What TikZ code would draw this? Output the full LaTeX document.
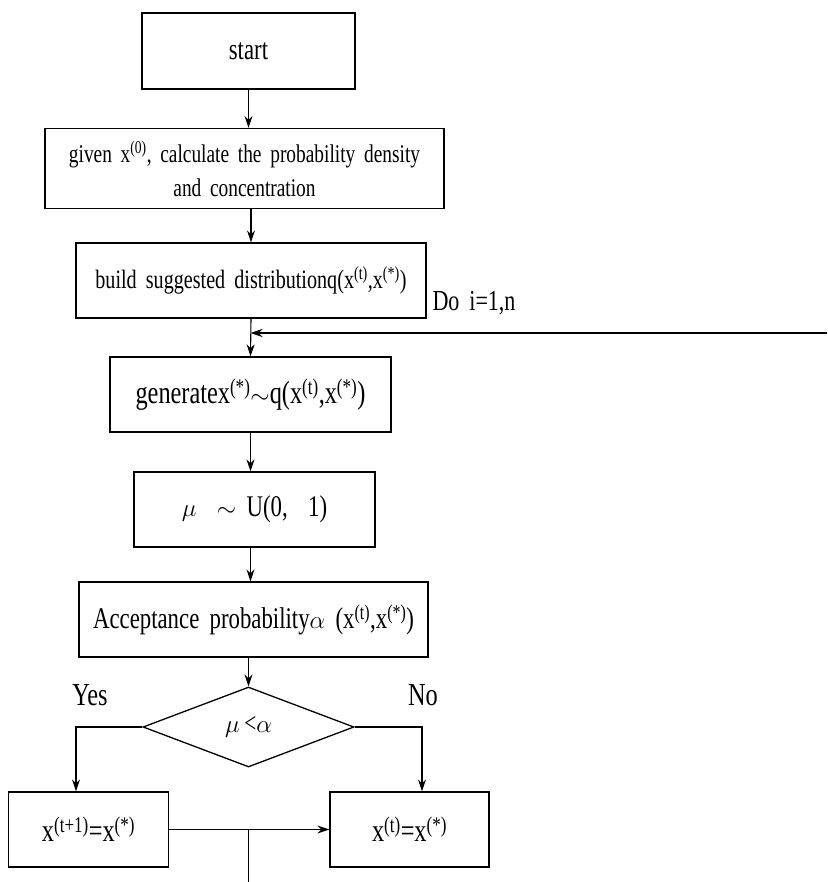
\documentclass[tikz,border=0pt]{standalone}
\usepackage{fontspec}
\setmainfont[FakeStretch=0.76,WordSpace=1.8]{Liberation Serif}
\usetikzlibrary{shapes.geometric,arrows.meta}
\newcommand{\sps}[1]{\textsuperscript{(#1)}}
\begin{document}
\begin{tikzpicture}[x=1pt,y=-1pt,
  box/.style={draw,line width=1.3pt,inner sep=0pt,align=center},
  arr/.style={-{Stealth[length=12pt,width=8pt]},line width=1.1pt},
  ln/.style={line width=1.1pt},
  lbl/.style={font=\fontsize{32}{36}\selectfont}]
\useasboundingbox (0,0) rectangle (827,882);
\fill[white] (0,0) rectangle (827,882);
\node[box,minimum width=213pt,minimum height=76pt,font=\fontsize{30}{36}\selectfont] (start) at (248.5,51) {start};
\node[box,minimum width=399pt,minimum height=80pt,font=\fontsize{25.5}{34}\selectfont] (b2) at (244.5,168.5) {given x\sps{0}, calculate the probability density\\and concentration};
\node[box,minimum width=350pt,minimum height=75pt,font=\fontsize{26.5}{30}\selectfont] (b3) at (251,280.5) {build suggested distributionq(x\sps{t},x\sps{*})};
\node[box,minimum width=281pt,minimum height=75pt,font=\fontsize{32}{36}\selectfont] (b4) at (250.5,394.5) {generatex\sps{*}$\sim$q(x\sps{t},x\sps{*})};
\node[box,minimum width=241pt,minimum height=75pt,font=\fontsize{30}{36}\selectfont] (b5) at (254.5,509.5) {$\mathrm{\mu}$~~$\sim$~U(0,~~1)};
\node[box,minimum width=349pt,minimum height=75pt,font=\fontsize{30}{36}\selectfont] (b6) at (253.5,619.5) {Acceptance probability$\alpha$ (x\sps{t},x\sps{*})};
\node[draw,line width=1.3pt,diamond,inner sep=0pt,minimum width=211pt,minimum height=80pt,aspect=2.64,font=\fontsize{28}{32}\selectfont] (dia) at (248.5,727) {$\mu$\,<$\alpha$};
\node[box,minimum width=160pt,minimum height=75pt,font=\fontsize{32}{36}\selectfont] (b7) at (88.5,829.5) {x\sps{t+1}=x\sps{*}};
\node[box,minimum width=159pt,minimum height=75pt,font=\fontsize{32}{36}\selectfont] (b8) at (409.5,829.5) {x\sps{t}=x\sps{*}};
\node[lbl] (yes) at (90,695) {Yes};
\node[lbl] (no) at (423,695) {No};
\node[lbl,font=\fontsize{29}{34}\selectfont] (doi) at (474,303) {Do i=1,n};
\coordinate (loopin) at (827,333);
\coordinate (exit) at (248.5,882);
\draw[arr] (start.south) -- (start.south |- b2.north);
\draw[arr] (b3.north |- b2.south) -- (b3.north);
\draw[arr] (b3.south) -- (b4.north);
\draw[arr] (loopin) -- (loopin -| b4.north);
\draw[arr] (b4.south) -- (b4.south |- b5.north);
\draw[arr] (b5.south -| b4.south) -- (b4.south |- b6.north);
\draw[arr] (dia.north |- b6.south) -- (dia.north);
\draw[arr] (dia.west) -| ([xshift=-12.5pt]b7.north);
\draw[arr] (dia.east) -| ([xshift=12.5pt]b8.north);
\draw[arr] (b7.east) -- (b8.west);
\draw[ln] (exit |- b7.east) -- (exit);
\end{tikzpicture}
\end{document}
